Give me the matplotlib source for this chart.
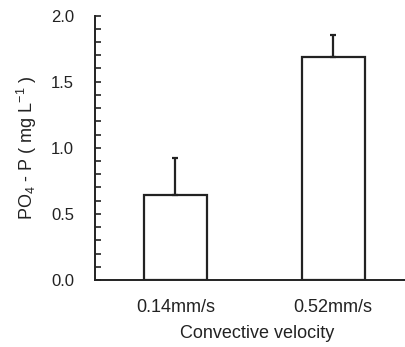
import matplotlib
matplotlib.use("Agg")
import matplotlib.pyplot as plt
from matplotlib.ticker import MultipleLocator

# Data
categories = ["0.14mm/s", "0.52mm/s"]
means = [0.64, 1.69]
errors = [0.28, 0.16]

plt.rcParams["font.family"] = ["Liberation Sans", "DejaVu Sans"]
plt.rcParams["font.size"] = 12
plt.rcParams["mathtext.default"] = "regular"

fig = plt.figure(figsize=(4.06, 3.47), dpi=100)
ax = fig.add_axes([0.234, 0.193, 0.80, 0.762])

x = range(len(categories))
ax.bar(x, means, width=0.40, color="white", edgecolor="#222222", linewidth=1.6,
       yerr=[[0, 0], errors], error_kw=dict(ecolor="#222222", elinewidth=1.6,
                                            capsize=2.5, capthick=1.6))

ax.set_xlim(-0.51, 1.55)
ax.set_ylim(0, 2.0)
ax.yaxis.set_major_locator(MultipleLocator(0.5))
ax.yaxis.set_minor_locator(MultipleLocator(0.1))
ax.yaxis.set_major_formatter(plt.FormatStrFormatter("%.1f"))
ax.set_xticks(list(x))
ax.set_xticklabels(categories, fontsize=13)

ax.spines["top"].set_visible(False)
ax.spines["right"].set_visible(False)
ax.spines["left"].set_linewidth(1.4)
ax.spines["bottom"].set_linewidth(1.4)
ax.spines["left"].set_color("#222222")
ax.spines["bottom"].set_color("#222222")

ax.tick_params(axis="y", which="both", direction="in", width=1.2, color="#222222")
ax.tick_params(axis="y", which="major", length=4, pad=15)
ax.tick_params(axis="y", which="minor", length=4)
ax.tick_params(axis="x", length=0, pad=14)
ax.tick_params(labelcolor="#222222")

ax.set_xlabel("Convective velocity", labelpad=6, color="#222222", fontsize=13)
ax.set_ylabel(r"PO$_4$ - P ( mg L$^{-1}$ )", labelpad=9, color="#222222", fontsize=13)

plt.savefig("out.png", dpi=100)
plt.close()
